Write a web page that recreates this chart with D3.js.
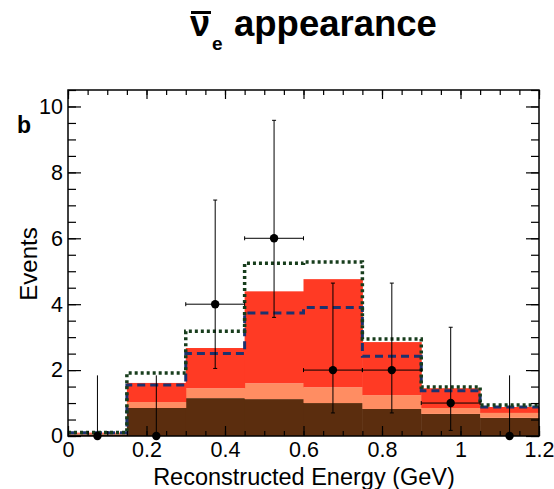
<!DOCTYPE html>
<html><head><meta charset="utf-8">
<script src="https://cdn.jsdelivr.net/npm/d3@7"></script>
<style>body{margin:0;background:#fff}</style>
</head><body>
<svg id="c" width="554" height="489"></svg>
<script>
const binEdges = [0, 0.15, 0.3, 0.45, 0.6, 0.75, 0.9, 1.05, 1.2];
const background = [0.05, 0.85, 1.15, 1.12, 1.00, 0.82, 0.67, 0.55];
const otherBkg   = [0.02, 0.18, 0.30, 0.48, 0.48, 0.42, 0.18, 0.15];
const signal     = [0.03, 0.58, 1.22, 2.79, 3.28, 1.61, 0.60, 0.18];
const dashedPred = [0.10, 1.55, 2.50, 3.73, 3.90, 2.42, 1.37, 0.88];
const dottedPred = [0.11, 1.91, 3.18, 5.24, 5.28, 2.94, 1.49, 0.94];
const dataCounts = [0, 0, 4, 6, 2, 2, 1, 0];
const dataLow    = [0, 0, 2.05, 3.6, 0.7, 0.7, 0.17, 0];
const dataHigh   = [1.84, 1.84, 7.16, 9.58, 4.64, 4.64, 3.3, 1.84];
const xTicks = [0, 0.2, 0.4, 0.6, 0.8, 1, 1.2];
const yTicks = [0, 2, 4, 6, 8, 10];

const svg = d3.select("#c");
const font = "'Liberation Sans', Arial, Helvetica, sans-serif";
const L = 68, R = 539, T = 90, B = 436;
const x = d3.scaleLinear().domain([0, 1.2]).range([L, R]);
const y = d3.scaleLinear().domain([0, 10.5]).range([B, T]);

const bins = d3.range(dataCounts.length).map(i => ({
  x0: binEdges[i], x1: binEdges[i+1],
  background: background[i], otherBkg: otherBkg[i], signal: signal[i]
}));
const keys = ["background", "otherBkg", "signal"];
const colors = {background: "#5b2d0e", otherBkg: "#ff8d62", signal: "#ff3a24"};
const stack = d3.stack().keys(keys)(bins);

svg.append("g").selectAll("g").data(stack).join("g")
  .attr("fill", d => colors[d.key])
  .selectAll("rect").data(d => d).join("rect")
  .attr("x", d => x(d.data.x0))
  .attr("width", d => x(d.data.x1) - x(d.data.x0) + 0.5)
  .attr("y", d => y(d[1]))
  .attr("height", d => y(d[0]) - y(d[1]));

function stepPts(vals) {
  const p = vals.map((v, i) => [binEdges[i], v]);
  p.push([binEdges[binEdges.length - 1], vals[vals.length - 1]]);
  return p;
}
const step = d3.line().x(d => x(d[0])).y(d => y(d[1])).curve(d3.curveStepAfter);

svg.append("path").attr("d", step(stepPts(dashedPred)))
  .attr("fill", "none").attr("stroke", "#1d326e").attr("stroke-width", 3)
  .attr("stroke-dasharray", "8,5");
svg.append("path").attr("d", step(stepPts(dottedPred)))
  .attr("fill", "none").attr("stroke", "#173d1c").attr("stroke-width", 3.5)
  .attr("stroke-dasharray", "3,3");

// axes
function styleAxis(g) {
  g.select(".domain").remove();
  g.selectAll(".tick line").attr("stroke", "#000").attr("stroke-width", 1.2);
  g.selectAll("text").attr("font-family", font).attr("font-size", 21.5).attr("fill", "#000");
}
const minorX = d3.range(0, 1.2001, 0.05).map(v => +v.toFixed(2));
const minorY = d3.range(0, 10.5001, 0.5).map(v => +v.toFixed(1));

svg.append("g").attr("transform", `translate(0,${B})`)
  .call(d3.axisBottom(x).tickValues(xTicks).tickSize(-10).tickPadding(6).tickFormat(d => String(d)))
  .call(styleAxis);
svg.append("g").attr("transform", `translate(0,${B})`)
  .call(d3.axisBottom(x).tickValues(minorX).tickSize(-5).tickFormat(""))
  .call(styleAxis);
svg.append("g").attr("transform", `translate(0,${T})`)
  .call(d3.axisTop(x).tickValues(xTicks).tickSize(-9).tickFormat(""))
  .call(styleAxis);
svg.append("g").attr("transform", `translate(0,${T})`)
  .call(d3.axisTop(x).tickValues(minorX).tickSize(-5).tickFormat(""))
  .call(styleAxis);
svg.append("g").attr("transform", `translate(${L},0)`)
  .call(d3.axisLeft(y).tickValues(yTicks).tickSize(-13).tickPadding(5).tickFormat(d => String(d)))
  .call(styleAxis);
svg.append("g").attr("transform", `translate(${L},0)`)
  .call(d3.axisLeft(y).tickValues(minorY).tickSize(-8).tickFormat(""))
  .call(styleAxis);
svg.append("g").attr("transform", `translate(${R},0)`)
  .call(d3.axisRight(y).tickValues(yTicks).tickSize(-13).tickFormat(""))
  .call(styleAxis);
svg.append("g").attr("transform", `translate(${R},0)`)
  .call(d3.axisRight(y).tickValues(minorY).tickSize(-8).tickFormat(""))
  .call(styleAxis);

svg.append("rect").attr("x", L).attr("y", T).attr("width", R - L).attr("height", B - T)
  .attr("fill", "none").attr("stroke", "#000").attr("stroke-width", 1.5);

// data points with error bars
const pts = d3.range(dataCounts.length).map(i => ({
  xc: (binEdges[i] + binEdges[i+1]) / 2, x0: binEdges[i], x1: binEdges[i+1],
  v: dataCounts[i], lo: dataLow[i], hi: dataHigh[i]
}));
const eg = svg.append("g").attr("stroke", "#000").attr("stroke-width", 1);
eg.selectAll(".v").data(pts).join("line")
  .attr("x1", d => x(d.xc)).attr("x2", d => x(d.xc))
  .attr("y1", d => y(d.lo)).attr("y2", d => y(d.hi));
eg.selectAll(".h").data(pts.filter(d => d.v > 0)).join("line")
  .attr("x1", d => x(d.x0)).attr("x2", d => x(d.x1))
  .attr("y1", d => y(d.v)).attr("y2", d => y(d.v));
eg.selectAll(".cv").data(pts.filter(d => d.v > 0)).join("path")
  .attr("d", d => `M${x(d.xc)-2},${y(d.hi)}h4M${x(d.xc)-2},${y(d.lo)}h4M${x(d.x0)},${y(d.v)-2}v4M${x(d.x1)},${y(d.v)-2}v4`);
svg.append("g").selectAll("circle").data(pts).join("circle")
  .attr("cx", d => x(d.xc)).attr("cy", d => y(d.v)).attr("r", 4.2).attr("fill", "#000");

// labels
svg.append("text").attr("x", 304).attr("y", 485).attr("text-anchor", "middle")
  .attr("font-family", font).attr("font-size", 23.5).text("Reconstructed Energy (GeV)");
svg.append("text").attr("transform", "translate(37,264) rotate(-90)").attr("text-anchor", "middle")
  .attr("font-family", font).attr("font-size", 24).text("Events");
svg.append("text").attr("x", 17).attr("y", 133)
  .attr("font-family", font).attr("font-size", 23).attr("font-weight", "bold").text("b");

// title
svg.append("text").attr("x", 190).attr("y", 36)
  .attr("font-family", font).attr("font-size", 36).attr("font-weight", "bold").text("ν");
svg.append("rect").attr("x", 191).attr("y", 11).attr("width", 20).attr("height", 3).attr("fill", "#000");
svg.append("text").attr("x", 212).attr("y", 50)
  .attr("font-family", font).attr("font-size", 19).attr("font-weight", "bold").text("e");
svg.append("text").attr("x", 234).attr("y", 36)
  .attr("font-family", font).attr("font-size", 36.5).attr("font-weight", "bold").text("appearance");
</script>
</body></html>
